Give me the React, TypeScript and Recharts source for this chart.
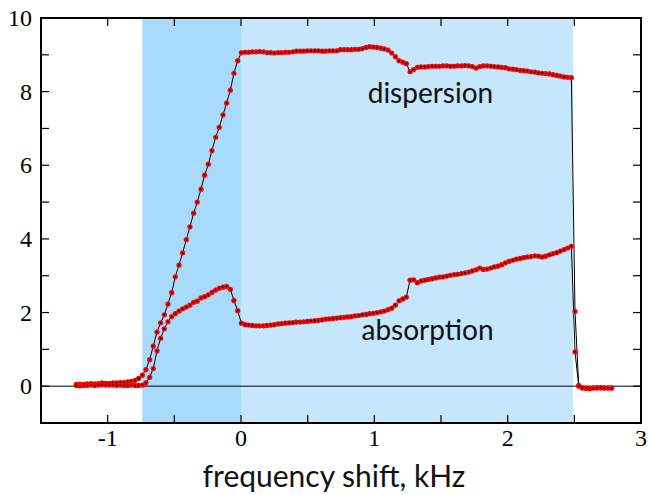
import {
  ComposedChart,
  Line,
  XAxis,
  YAxis,
  ReferenceArea,
  ReferenceLine,
  ReferenceDot,
} from "recharts";

const FREQ = [
  -1.235, -1.208, -1.18, -1.153, -1.125, -1.098, -1.07, -1.043, -1.015, -0.988,
  -0.96, -0.933, -0.905, -0.878, -0.85, -0.823, -0.795, -0.768, -0.74, -0.713,
  -0.685, -0.658, -0.63, -0.603, -0.575, -0.548, -0.52, -0.493, -0.465, -0.438,
  -0.41, -0.383, -0.355, -0.328, -0.3, -0.273, -0.245, -0.218, -0.19, -0.163,
  -0.135, -0.108, -0.08, -0.053, -0.025, 0.003, 0.03, 0.058, 0.085, 0.113,
  0.14, 0.168, 0.195, 0.223, 0.25, 0.278, 0.305, 0.333, 0.36, 0.388,
  0.415, 0.443, 0.47, 0.498, 0.525, 0.553, 0.58, 0.608, 0.635, 0.663,
  0.69, 0.718, 0.745, 0.773, 0.8, 0.828, 0.855, 0.883, 0.91, 0.938,
  0.965, 0.993, 1.02, 1.048, 1.075, 1.103, 1.13, 1.158, 1.185, 1.213,
  1.24, 1.268, 1.295, 1.323, 1.35, 1.378, 1.405, 1.433, 1.46, 1.488,
  1.515, 1.543, 1.57, 1.598, 1.625, 1.653, 1.68, 1.708, 1.735, 1.763,
  1.79, 1.818, 1.845, 1.873, 1.9, 1.928, 1.955, 1.983, 2.01, 2.038,
  2.065, 2.093, 2.12, 2.148, 2.175, 2.203, 2.23, 2.258, 2.285, 2.313,
  2.34, 2.368, 2.395, 2.423, 2.45, 2.478, 2.505, 2.533, 2.56, 2.588,
  2.615, 2.643, 2.67, 2.698, 2.725, 2.753, 2.78,
];

const DISPERSION = [
  0.05, 0.05, 0.05, 0.06, 0.07, 0.06, 0.07, 0.09, 0.08, 0.08,
  0.09, 0.09, 0.1, 0.1, 0.12, 0.13, 0.16, 0.21, 0.3, 0.45,
  0.72, 1.09, 1.47, 1.72, 1.94, 2.23, 2.54, 2.97, 3.29, 3.62,
  3.98, 4.33, 4.7, 5.0, 5.35, 5.73, 6.03, 6.4, 6.76, 7.03,
  7.37, 7.69, 8.04, 8.5, 8.84, 9.06, 9.07, 9.07, 9.08, 9.08,
  9.09, 9.08, 9.06, 9.06, 9.05, 9.06, 9.06, 9.07, 9.07, 9.08,
  9.1, 9.1, 9.1, 9.11, 9.11, 9.11, 9.11, 9.1, 9.1, 9.11,
  9.11, 9.11, 9.14, 9.14, 9.14, 9.14, 9.15, 9.15, 9.17, 9.2,
  9.22, 9.21, 9.2, 9.18, 9.16, 9.13, 9.05, 8.95, 8.84, 8.8,
  8.76, 8.54, 8.6, 8.66, 8.67, 8.67, 8.68, 8.69, 8.69, 8.69,
  8.7, 8.7, 8.69, 8.69, 8.7, 8.7, 8.71, 8.7, 8.68, 8.64,
  8.68, 8.7, 8.7, 8.69, 8.68, 8.67, 8.66, 8.65, 8.62, 8.61,
  8.6, 8.58, 8.57, 8.56, 8.54, 8.53, 8.51, 8.5, 8.49, 8.48,
  8.46, 8.44, 8.42, 8.4, 8.39, 8.38, 2.03, 0.02, -0.05, -0.06,
  -0.07, -0.05, -0.04, -0.05, -0.05, -0.05, -0.05,
];

const ABSORPTION = [
  0.02, 0.01, 0.02, 0.02, 0.03, 0.02, 0.03, 0.04, 0.03, 0.03,
  0.03, 0.02, 0.03, 0.02, 0.02, 0.03, 0.02, 0.02, 0.03, 0.09,
  0.24, 0.48, 0.96, 1.3, 1.56, 1.75, 1.89, 1.97, 2.04, 2.1,
  2.15, 2.2, 2.28, 2.31, 2.4, 2.43, 2.48, 2.55, 2.61, 2.66,
  2.69, 2.71, 2.63, 2.33, 2.05, 1.71, 1.67, 1.66, 1.65, 1.64,
  1.64, 1.64, 1.65, 1.66, 1.67, 1.69, 1.7, 1.71, 1.72, 1.73,
  1.74, 1.74, 1.75, 1.76, 1.77, 1.78, 1.79, 1.8, 1.82, 1.83,
  1.84, 1.85, 1.86, 1.87, 1.88, 1.89, 1.91, 1.92, 1.94, 1.95,
  1.97, 1.98, 2.0, 2.02, 2.04, 2.08, 2.12, 2.2, 2.32, 2.37,
  2.42, 2.88, 2.89, 2.81, 2.86, 2.88, 2.9, 2.92, 2.94, 2.96,
  2.97, 2.99, 3.01, 3.03, 3.04, 3.06, 3.08, 3.1, 3.13, 3.16,
  3.21, 3.17, 3.18, 3.21, 3.24, 3.26, 3.3, 3.35, 3.39, 3.42,
  3.45, 3.47, 3.49, 3.51, 3.52, 3.54, 3.53, 3.51, 3.53, 3.57,
  3.6, 3.63, 3.67, 3.71, 3.75, 3.8, 0.93, 0.0, -0.04, -0.05,
  -0.06, -0.05, -0.05, -0.04, -0.05, -0.05, -0.05,
];

const X_TICKS = [-1.5, -1, -0.5, 0, 0.5, 1, 1.5, 2, 2.5, 3];
const X_LABELS = [-1, 0, 1, 2, 3];
const Y_TICKS = [-1, 0, 1, 2, 3, 4, 5, 6, 7, 8, 9, 10];
const Y_LABELS = [0, 2, 4, 6, 8, 10];

const DARK_BAND = [-0.74, 0];
const LIGHT_BAND = [0, 2.49];

const dispersionRows = FREQ.map((x, i) => ({ x, y: DISPERSION[i] }));
const absorptionRows = FREQ.map((x, i) => ({ x, y: ABSORPTION[i] }));

const TICK_LEN = 8;
const SERIF = "'Liberation Serif', serif";
const SANS = "Lato, 'Noto Sans', sans-serif";

const axisLine = { stroke: "#000", strokeWidth: 2, strokeLinecap: "square" as const };

function BottomTick(props: any) {
  const { x, y, payload } = props;
  const v = payload.value;
  return (
    <g>
      <line x1={x} y1={y} x2={x} y2={y - TICK_LEN} stroke="#000" strokeWidth={1.2} />
      {X_LABELS.includes(v) && (
        <text x={x} y={y + 23} textAnchor="middle" fontFamily={SERIF} fontSize={24} fill="#000">
          {v}
        </text>
      )}
    </g>
  );
}

function TopTick(props: any) {
  const { x, y } = props;
  return <line x1={x} y1={y} x2={x} y2={y + TICK_LEN} stroke="#000" strokeWidth={1.2} />;
}

function LeftTick(props: any) {
  const { x, y, payload } = props;
  const v = payload.value;
  return (
    <g>
      <line x1={x} y1={y} x2={x + TICK_LEN} y2={y} stroke="#000" strokeWidth={1.2} />
      {Y_LABELS.includes(v) && (
        <text x={x - 9} y={y + 8} textAnchor="end" fontFamily={SERIF} fontSize={24} fill="#000">
          {v}
        </text>
      )}
    </g>
  );
}

function RightTick(props: any) {
  const { x, y } = props;
  return <line x1={x} y1={y} x2={x - TICK_LEN} y2={y} stroke="#000" strokeWidth={1.2} />;
}

function renderDot(p: any) {
  return (
    <g key={`dot-${p.index}`}>
      <circle cx={p.cx} cy={p.cy} r={2.6} fill="#ff0000" />
      <circle cx={p.cx} cy={p.cy} r={0.9} fill="#000" />
    </g>
  );
}

function wordAt(text: string) {
  return (p: any) => (
    <text x={p.cx} y={p.cy} textAnchor="middle" fontFamily={SANS} fontSize={28} fill="#111">
      {text}
    </text>
  );
}

function renderTitle(p: any) {
  const vb = p.viewBox;
  return (
    <text
      x={vb.x + vb.width / 2 - 7}
      y={vb.y + 64}
      textAnchor="middle"
      fontFamily={SANS}
      fontSize={30}
      fill="#111"
    >
      frequency shift, kHz
    </text>
  );
}

export default function App() {
  return (
    <div style={{ position: "absolute", left: 0, top: 0, background: "#fff" }}>
      <ComposedChart width={648} height={495} margin={{ top: 17, right: 6, bottom: 71, left: 40 }}>
        <ReferenceArea
          xAxisId="bottom"
          yAxisId="left"
          x1={DARK_BAND[0]}
          x2={DARK_BAND[1]}
          fill="#a7dafc"
          fillOpacity={1}
          stroke="none"
        />
        <ReferenceArea
          xAxisId="bottom"
          yAxisId="left"
          x1={LIGHT_BAND[0]}
          x2={LIGHT_BAND[1]}
          fill="#c5e6fd"
          fillOpacity={1}
          stroke="none"
        />
        <XAxis
          xAxisId="bottom"
          type="number"
          dataKey="x"
          domain={[-1.5, 3]}
          ticks={X_TICKS}
          interval={0}
          height={1}
          tickSize={0}
          tickMargin={0}
          tickLine={false}
          axisLine={axisLine}
          tick={<BottomTick />}
          allowDataOverflow
          label={renderTitle}
        />
        <XAxis
          xAxisId="top"
          orientation="top"
          type="number"
          dataKey="x"
          domain={[-1.5, 3]}
          ticks={X_TICKS}
          interval={0}
          height={1}
          tickSize={0}
          tickMargin={0}
          tickLine={false}
          axisLine={axisLine}
          tick={<TopTick />}
          allowDataOverflow
        />
        <YAxis
          yAxisId="left"
          type="number"
          domain={[-1, 10]}
          ticks={Y_TICKS}
          interval={0}
          width={1}
          tickSize={0}
          tickMargin={0}
          tickLine={false}
          axisLine={axisLine}
          tick={<LeftTick />}
          allowDataOverflow
        />
        <YAxis
          yAxisId="right"
          orientation="right"
          type="number"
          domain={[-1, 10]}
          ticks={Y_TICKS}
          interval={0}
          width={1}
          tickSize={0}
          tickMargin={0}
          tickLine={false}
          axisLine={axisLine}
          tick={<RightTick />}
          allowDataOverflow
        />
        <ReferenceLine xAxisId="bottom" yAxisId="left" y={0} stroke="#000" strokeWidth={1} />
        <Line
          xAxisId="bottom"
          yAxisId="left"
          data={dispersionRows}
          dataKey="y"
          type="linear"
          stroke="#000"
          strokeWidth={1}
          dot={renderDot}
          activeDot={false}
          isAnimationActive={false}
        />
        <Line
          xAxisId="bottom"
          yAxisId="left"
          data={absorptionRows}
          dataKey="y"
          type="linear"
          stroke="#000"
          strokeWidth={1}
          dot={renderDot}
          activeDot={false}
          isAnimationActive={false}
        />
        <ReferenceDot xAxisId="bottom" yAxisId="left" x={1.421} y={7.69} r={0} shape={wordAt("dispersion")} />
        <ReferenceDot xAxisId="bottom" yAxisId="left" x={1.399} y={1.254} r={0} shape={wordAt("absorption")} />
      </ComposedChart>
    </div>
  );
}
